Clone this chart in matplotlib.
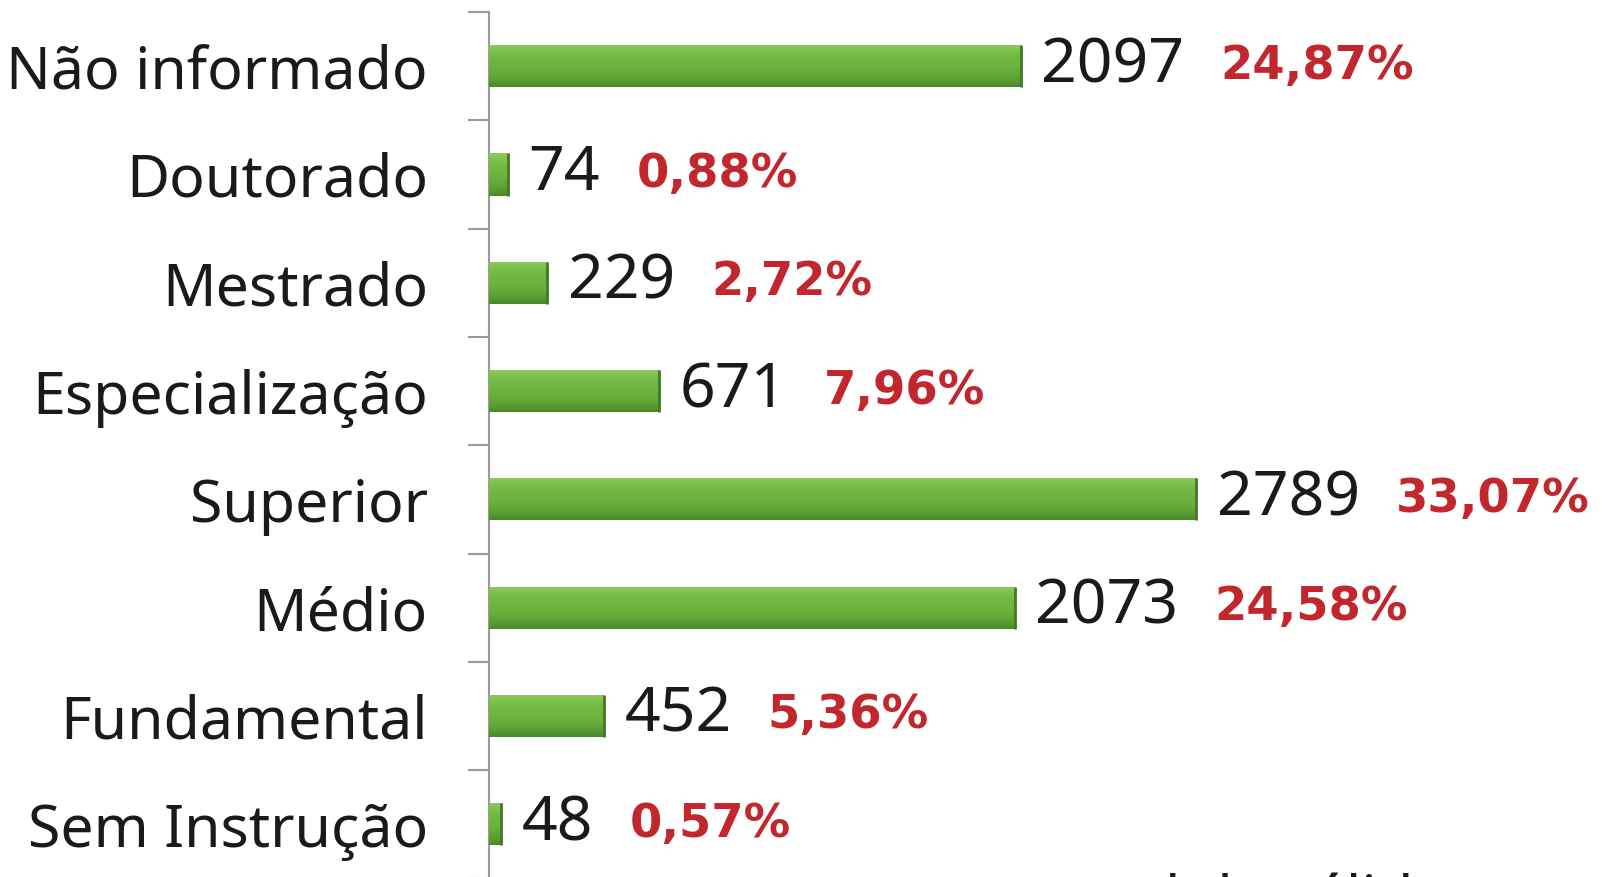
import numpy as np
import matplotlib
matplotlib.use("Agg")
import matplotlib.pyplot as plt
from matplotlib.colors import LinearSegmentedColormap

# ---- data ----
categories = ["Não informado", "Doutorado", "Mestrado", "Especialização",
              "Superior", "Médio", "Fundamental", "Sem Instrução"]
values = [2097, 74, 229, 671, 2789, 2073, 452, 48]
percents = ["24,87%", "0,88%", "2,72%", "7,96%", "33,07%", "24,58%", "5,36%", "0,57%"]
footer_text = "total de válidos"

W, H = 1608, 877
fig = plt.figure(figsize=(W / 100, H / 100), dpi=100)
fig.patch.set_facecolor("white")

left = 489 / W
top = 12 / H
ax = fig.add_axes([left, -0.0016, 1 - left, 1 - top + 0.0016])

n = len(categories)
ypos = np.arange(n)[::-1]  # first category on top
bars = ax.barh(ypos, values, height=0.39, color="#6cb33e", edgecolor="none", zorder=2)

ax.set_xlim(0, 4414)
ax.set_ylim(-0.5, n - 0.5)

# gradient overlay on bars
grad = LinearSegmentedColormap.from_list(
    "g", ["#4a8a2a", "#62a838", "#6db53f", "#74ba45", "#8fcb5e"])
gimg = np.linspace(0, 1, 64).reshape(-1, 1)
for b in bars:
    x0, y0 = b.get_x(), b.get_y()
    w, h = b.get_width(), b.get_height()
    im = ax.imshow(gimg, cmap=grad, aspect="auto", origin="lower",
                   extent=(x0, x0 + w, y0, y0 + h), zorder=3)
    im.set_clip_path(b)
    ax.plot([x0 + w, x0 + w], [y0, y0 + h], color="#3f7a24", lw=2, zorder=4,
            solid_capstyle="butt")

# spines
for s in ["top", "right", "bottom"]:
    ax.spines[s].set_visible(False)
ax.spines["left"].set_color("#9a9a9a")
ax.spines["left"].set_linewidth(1.5)
ax.set_xticks([])

# category labels
ax.set_yticks(ypos)
ax.set_yticklabels(categories, fontsize=42.5, family="Noto Sans", color="#1a1a1a")
ax.tick_params(axis="y", which="major", length=0, pad=44)
# boundary tick marks
ax.set_yticks(np.arange(-0.5, n, 1.0), minor=True)
ax.tick_params(axis="y", which="minor", length=15, width=1.5, color="#9a9a9a",
               direction="out")

# value and percent labels
for b, v, p in zip(bars, values, percents):
    yc = b.get_y() + b.get_height() / 2
    t = ax.annotate(str(v), xy=(b.get_width(), yc), xytext=(15, 0),
                    textcoords="offset points", va="center", ha="left",
                    fontsize=45, family="Noto Sans", color="#1a1a1a", zorder=5)
    ax.annotate(p, xy=(1, 0.5), xycoords=t, xytext=(26, 0),
                textcoords="offset points", va="center", ha="left",
                fontsize=33.5, family="DejaVu Sans", fontweight="bold",
                color="#c1272d", zorder=5)

# partially visible footer text at the very bottom (cut off as in the source)
fig.text(1052 / W, -42 / H, footer_text, fontsize=43, family="Noto Sans",
         color="#1a1a1a", ha="left", va="baseline")

fig.savefig("out.png", dpi=100, facecolor="white")
